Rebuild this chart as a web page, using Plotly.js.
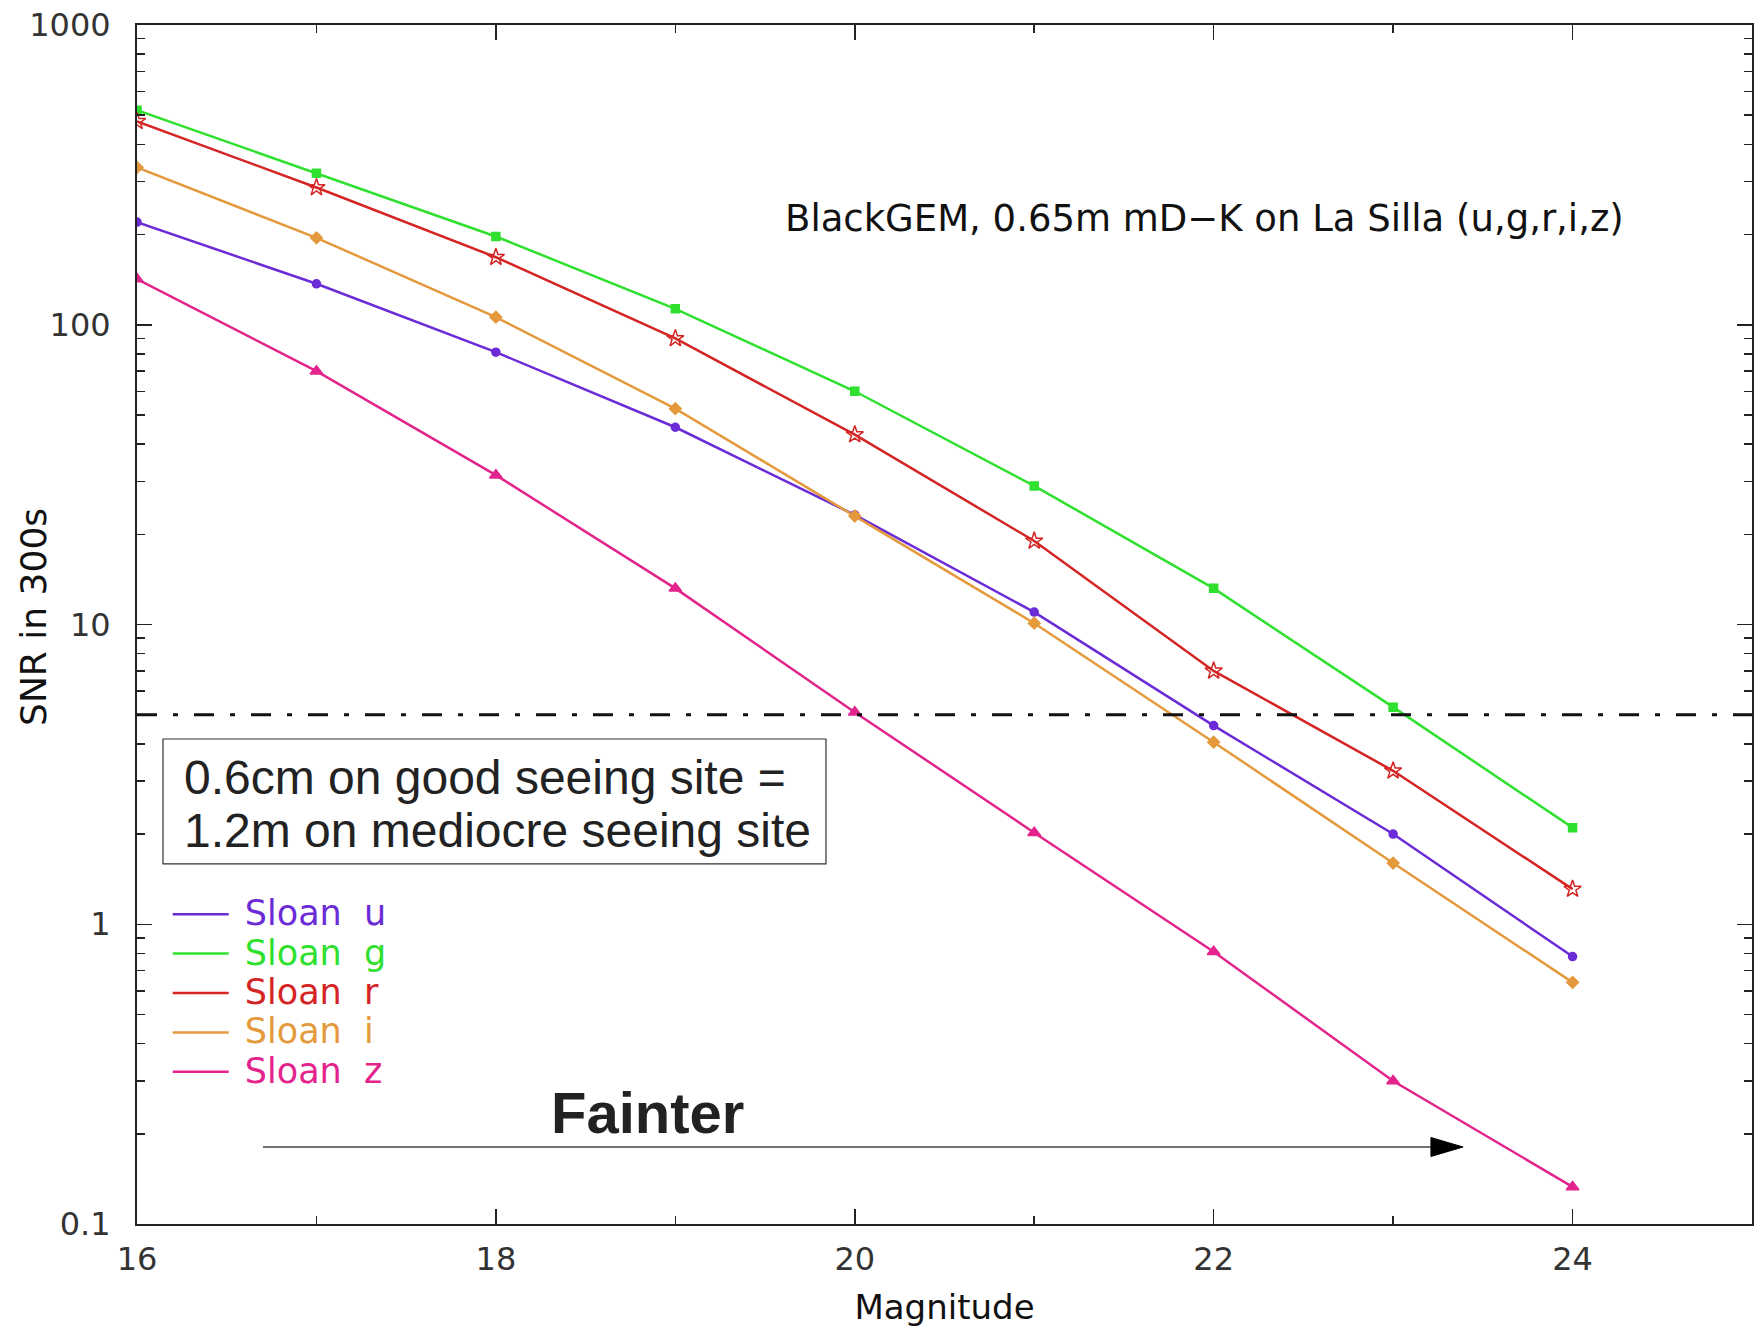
<!DOCTYPE html>
<html>
<head>
<meta charset="utf-8">
<script src="https://cdn.plot.ly/plotly-3.0.1.min.js"></script>
<style>html,body{margin:0;padding:0;background:#fff;}#chart{width:1758px;height:1330px;}</style>
</head>
<body>
<div id="chart"></div>
<script>
// Magnitudes (x)
const magnitudes = [16, 17, 18, 19, 20, 21, 22, 23, 24];
// SNR in 300 s for each Sloan filter
const snrU = [220, 137, 81, 45.5, 23.2, 11, 4.6, 2.0, 0.78];
const snrG = [520, 320, 197, 113, 60, 29, 13.2, 5.3, 2.1];
const snrR = [477, 287, 168, 90, 43, 19, 7.0, 3.25, 1.31];
const snrI = [335, 195, 106, 52.5, 23, 10.1, 4.05, 1.6, 0.64];
const snrZ = [142, 70, 31.5, 13.2, 5.1, 2.02, 0.81, 0.30, 0.133];
const seriesNames = ['Sloan u', 'Sloan g', 'Sloan r', 'Sloan i', 'Sloan z'];
const snrLimit = 5;
const xTickVals = [16, 18, 20, 22, 24];
const yTickVals = [0.1, 1, 10, 100, 1000];
const yTickText = ['0.1', '1', '10', '100', '1000'];

const colors = ['#6b2bd6', '#2fe02f', '#d42424', '#e49a3c', '#e3248c'];
const symbols = ['circle', 'square', 'star-open', 'diamond', 'triangle-up'];
const msizes = [8, 8, 13, 9, 11];
const allSeries = [snrU, snrG, snrR, snrI, snrZ];

const traces = [];
allSeries.forEach((s, k) => {
  const parts = seriesNames[k].split(' ');
  traces.push({
    x: magnitudes, y: s, type: 'scatter', mode: 'lines',
    name: '<span style="font-size:35px;color:' + colors[k] + '">&nbsp;' + parts[0] + '&nbsp; ' + parts[1] + '</span>',
    line: {color: colors[k], width: 2.5},
    showlegend: true, hoverinfo: 'skip'
  });
});
allSeries.forEach((s, k) => {
  traces.push({
    x: magnitudes, y: s, type: 'scatter', mode: 'markers',
    name: seriesNames[k], showlegend: false,
    marker: {color: colors[k], symbol: symbols[k], size: msizes[k], line: {color: colors[k], width: 1.5}}
  });
});

const tickFont = {family: 'DejaVu Sans', size: 32, color: '#333'};
const hershey = 'DejaVu Sans';

const layout = {
  width: 1758, height: 1330,
  margin: {l: 137, r: 6, t: 25, b: 106},
  paper_bgcolor: '#fff', plot_bgcolor: '#fff',
  showlegend: true,
  legend: {
    x: 0.019, y: 0.279, xanchor: 'left', yanchor: 'top',
    bgcolor: 'rgba(0,0,0,0)', borderwidth: 0,
    font: {family: hershey, size: 28, color: '#333'},
    itemwidth: 56, traceorder: 'normal'
  },
  xaxis: {
    range: [16, 25], tickvals: xTickVals, ticktext: xTickVals.map(String),
    ticks: 'inside', ticklen: 15, tickwidth: 1.5, tickcolor: '#222',
    minor: {dtick: 1, tick0: 16, ticks: 'inside', ticklen: 8, tickwidth: 1.5, tickcolor: '#222', showgrid: false},
    showline: true, linecolor: '#222', linewidth: 2, mirror: 'allticks',
    showgrid: false, zeroline: false, tickfont: tickFont, ticklabelstandoff: 6,
    title: {text: 'Magnitude', font: {family: hershey, size: 34, color: '#111'}, standoff: 18}
  },
  yaxis: {
    type: 'log', range: [-1, 3], tickvals: yTickVals, ticktext: yTickText,
    ticks: 'inside', ticklen: 15, tickwidth: 1.5, tickcolor: '#222',
    minor: {dtick: 'D1', ticks: 'inside', ticklen: 8, tickwidth: 1.5, tickcolor: '#222', showgrid: false},
    showline: true, linecolor: '#222', linewidth: 2, mirror: 'allticks',
    showgrid: false, zeroline: false, tickfont: tickFont, ticklabelstandoff: 18
  },
  shapes: [
    {type: 'line', xref: 'paper', x0: 0, x1: 1, yref: 'y', y0: snrLimit, y1: snrLimit,
     line: {color: '#111', width: 3, dash: '20px,16px,5px,16px'}},
    {type: 'rect', xref: 'paper', yref: 'paper', x0: 0.0161, x1: 0.4266, y0: 0.3003, y1: 0.4045,
     line: {color: '#333', width: 1.2}, fillcolor: 'rgba(0,0,0,0)'},
    {type: 'line', xref: 'paper', yref: 'paper', x0: 0.0780, x1: 0.8040, y0: 0.06422, y1: 0.06422,
     line: {color: '#444', width: 1.5}},
    {type: 'path', xref: 'paper', yref: 'paper',
     path: 'M 0.8012 0.07214 L 0.8211 0.06422 L 0.8012 0.05630 Z',
     fillcolor: '#000', line: {color: '#000', width: 1}}
  ],
  annotations: [
    {xref: 'paper', yref: 'paper', x: 0.6613, y: 0.8382, xanchor: 'center', yanchor: 'middle',
     text: 'BlackGEM, 0.65m mD\u2212K on La Silla (u,g,r,i,z)', showarrow: false,
     font: {family: hershey, size: 37, color: '#111'}},
    {xref: 'paper', yref: 'paper', x: 0.0279, y: 0.3728, xanchor: 'left', yanchor: 'middle',
     text: '0.6cm on good seeing site =', showarrow: false,
     font: {family: 'Liberation Sans', size: 48, color: '#222'}},
    {xref: 'paper', yref: 'paper', x: 0.0279, y: 0.3286, xanchor: 'left', yanchor: 'middle',
     text: '1.2m on mediocre seeing site', showarrow: false,
     font: {family: 'Liberation Sans', size: 48, color: '#222'}},
    {xref: 'paper', yref: 'paper', x: 0.3158, y: 0.0926, xanchor: 'center', yanchor: 'middle',
     text: '<b>Fainter</b>', showarrow: false,
     font: {family: 'Liberation Sans', size: 58, color: '#222'}},
    {xref: 'paper', yref: 'paper', x: -0.0638, y: 0.5063, xanchor: 'center', yanchor: 'middle',
     text: 'SNR in 300s', textangle: -90, showarrow: false,
     font: {family: hershey, size: 36, color: '#111'}}
  ]
};

Plotly.newPlot('chart', traces, layout, {displayModeBar: false, staticPlot: true});
</script>
</body>
</html>
